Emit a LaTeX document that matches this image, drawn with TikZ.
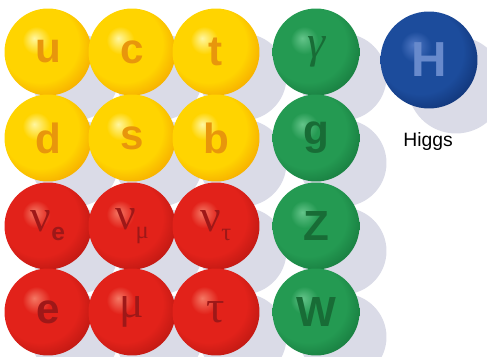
\documentclass[tikz,border=0pt]{standalone}
\usepackage{fontspec}
\setmainfont{Liberation Sans}
\newfontfamily\greekfont{Liberation Serif}
\usetikzlibrary{shadows}

\definecolor{shadowgrey}{RGB}{218,219,231}
\definecolor{yhigh}{RGB}{255,246,160}
\definecolor{ymid}{RGB}{255,212,0}
\definecolor{yedge}{RGB}{238,138,0}
\definecolor{rhigh}{RGB}{244,120,100}
\definecolor{rmid}{RGB}{226,34,26}
\definecolor{redge}{RGB}{160,16,12}
\definecolor{ghigh}{RGB}{100,196,138}
\definecolor{gmid}{RGB}{36,154,82}
\definecolor{gedge}{RGB}{14,100,48}
\definecolor{bhigh}{RGB}{80,120,196}
\definecolor{bmid}{RGB}{28,76,156}
\definecolor{bedge}{RGB}{8,34,90}
\definecolor{yletter}{RGB}{232,150,12}
\definecolor{rletter}{RGB}{158,24,24}
\definecolor{gletter}{RGB}{24,108,54}
\definecolor{bletter}{RGB}{104,138,204}

\pgfdeclareradialshading{yellowball}{\pgfpoint{-8bp}{8bp}}{color(0bp)=(yhigh); color(8bp)=(ymid); color(22bp)=(ymid); color(38bp)=(yedge); color(50bp)=(yedge)}
\pgfdeclareradialshading{redball}{\pgfpoint{-8bp}{8bp}}{color(0bp)=(rhigh); color(8bp)=(rmid); color(22bp)=(rmid); color(38bp)=(redge); color(50bp)=(redge)}
\pgfdeclareradialshading{greenball}{\pgfpoint{-8bp}{8bp}}{color(0bp)=(ghigh); color(8bp)=(gmid); color(22bp)=(gmid); color(38bp)=(gedge); color(50bp)=(gedge)}
\pgfdeclareradialshading{blueball}{\pgfpoint{-8bp}{8bp}}{color(0bp)=(bhigh); color(8bp)=(bmid); color(22bp)=(bmid); color(38bp)=(bedge); color(50bp)=(bedge)}

\tikzset{
  particle/.style={circle, minimum size=1.74cm, inner sep=0pt, shade,
    font=\bfseries\fontsize{24}{24}\selectfont,
    drop shadow={shadow xshift=0.54cm, shadow yshift=-0.5cm, fill=shadowgrey, opacity=1}},
  quark/.style={particle, shading=yellowball, text=yletter},
  lepton/.style={particle, shading=redball, text=rletter},
  boson/.style={particle, shading=greenball, text=gletter},
  scalar/.style={particle, minimum size=1.94cm, shading=blueball, text=bletter,
    font=\bfseries\fontsize{28}{28}\selectfont},
}
\newcommand{\grk}{\greekfont\mdseries\fontsize{26}{26}\selectfont}
\newcommand{\subsc}{\fontsize{14}{14}\selectfont}

\begin{document}
\begin{tikzpicture}[x=0.02cm, y=-0.02cm]
			\clip (0,0) rectangle (487,357);

			% first row
			\node[quark] (u) at (48,52) {u};
			\node[quark] (c) at (132,52) {c};
			\node[quark] (t) at (216,52) {t};
			\node[boson] (gamma) at (316,52) {\grk\itshape γ};
			\node[scalar] (H) at (429,60) {H};
			\node[font=\fontsize{11}{11}\selectfont] (higgs) at (428,142) {Higgs};

			% second row
			\node[quark] (d) at (48,138) {d};
			\node[quark] (s) at (132,138) {s};
			\node[quark] (b) at (216,138) {b};
			\node[boson] (g) at (316,138) {g};

			% neutrinos
			\node[lepton] (ve) at (48,226) {{\grk ν}\raisebox{-0.4ex}{\subsc e}};
			\node[lepton] (vm) at (132,226) {{\grk ν}\raisebox{-0.4ex}{\subsc\greekfont\mdseries μ}};
			\node[lepton] (vt) at (216,226) {{\grk ν}\raisebox{-0.4ex}{\subsc\greekfont\mdseries τ}};
			\node[boson] (Z) at (316,226) {Z};

			% charged leptons
			\node[lepton] (e) at (48,312) {e};
			\node[lepton] (mu) at (132,312) {\grk μ};
			\node[lepton] (tau) at (216,312) {\grk τ};
			\node[boson] (W) at (316,312) {W};
		\end{tikzpicture}
\end{document}
